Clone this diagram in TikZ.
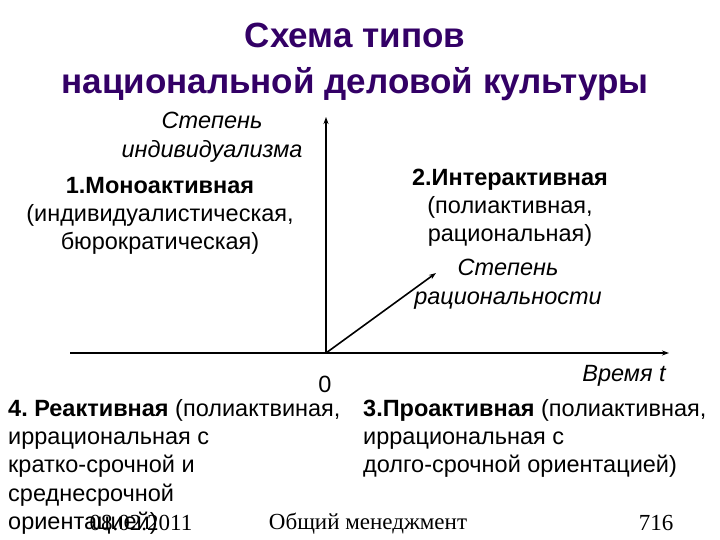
\documentclass[tikz,border=0pt]{standalone}
\usepackage{fontspec}
\setmainfont{Liberation Sans}
\newfontfamily\footfont{Liberation Serif}
\usetikzlibrary{arrows.meta}
\definecolor{titlepurple}{rgb}{0.2, 0.0, 0.4}
\frenchspacing

\begin{document}
\begin{tikzpicture}[
  x=1pt,y=-1pt,
  >={Stealth[length=7pt,width=5pt]},
  ttl/.style={font=\fontsize{35}{42}\selectfont\bfseries,text=titlepurple,
              align=center,inner sep=0pt},
  lbl/.style={font=\fontsize{23.5}{28}\selectfont,align=center,inner sep=0pt},
  axlbl/.style={font=\fontsize{23.5}{28.5}\selectfont\itshape,align=center,inner sep=0pt},
  blk/.style={font=\fontsize{23.5}{28.3}\selectfont,align=left,inner sep=0pt},
  foot/.style={font=\fontsize{23}{26}\selectfont\footfont,inner sep=0pt},
  axis/.style={->,line width=1.6pt}
]
\useasboundingbox (0,0) rectangle (720,540);

% title
\node[ttl] (title) at (355,62) {Схема типов\\[4pt]национальной деловой культуры};

% axes
\coordinate (orig)   at (326,353);
\coordinate (ytop)   at (326,117);
\coordinate (xleft)  at (70,353);
\coordinate (xright) at (669,353);
\coordinate (ratio)  at (436,273);

\draw[axis] (xleft) -- (xright);
\draw[axis] (orig) -- (ytop);
\draw[axis] (orig) -- (ratio);

\node[lbl]   (zero) at (325,384) {0};
\node[axlbl] (time) at (624,376) {Время \textit{t}};
\node[axlbl] (indiv) at (212,137) {Степень\\индивидуализма};
\node[axlbl] (ratn)  at (508,284) {Степень\\рациональности};

% quadrants
\node[lbl] (mono) at (160,216)
  {\textbf{1.Моноактивная}\\(индивидуалистическая,\\бюрократическая)};
\node[lbl] (inter) at (510,208)
  {\textbf{2.Интерактивная}\\(полиактивная,\\рациональная)};
\node[blk,anchor=north west] (react) at (8,399)
  {\textbf{4. Реактивная} (полиактвиная,\\иррациональная с\\кратко-срочной и\\среднесрочной\\ориентацией)};
\node[blk,anchor=north west] (proact) at (363,399)
  {\textbf{3.Проактивная} (полиактивная,\\иррациональная с\\долго-срочной ориентацией)};

% footer
\node[foot] (date)  at (141,523) {08.02.2011};
\node[foot] (subj)  at (368,524) {Общий менеджмент};
\node[foot] (page)  at (656,523) {716};
\end{tikzpicture}
\end{document}
